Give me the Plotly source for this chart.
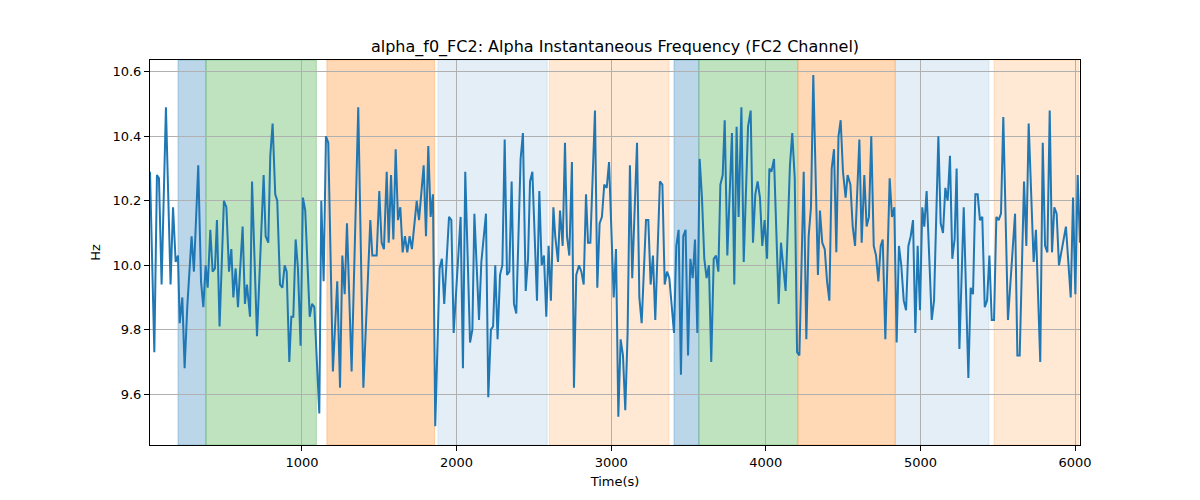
import plotly.graph_objects as go

time_s = [17, 45, 62, 75, 92, 120, 150, 166, 183, 198, 209, 226, 241, 258, 286, 301, 329, 347, 362, 377,
          390, 407, 422, 437, 450, 467, 495, 511, 528, 543, 556, 571, 586, 616, 631, 644, 664, 677, 709, 752,
          765, 782, 795, 810, 827, 840, 858, 873, 888, 901, 918, 931, 944, 959, 974, 991, 1006, 1021, 1050, 1065,
          1080, 1112, 1125, 1140, 1155, 1170, 1200, 1228, 1246, 1261, 1276, 1291, 1321, 1364, 1397, 1442, 1455, 1483, 1500,
          1515, 1530, 1548, 1561, 1576, 1591, 1606, 1621, 1636, 1651, 1666, 1681, 1696, 1711, 1742, 1757, 1787, 1802, 1817,
          1832, 1847, 1862, 1890, 1905, 1920, 1951, 1966, 1981, 2026, 2041, 2056, 2087, 2102, 2115, 2145, 2160, 2175, 2190,
          2205, 2222, 2236, 2250, 2265, 2281, 2296, 2311, 2326, 2341, 2356, 2371, 2386, 2414, 2429, 2447, 2462, 2475, 2490,
          2520, 2535, 2550, 2565, 2580, 2595, 2610, 2626, 2638, 2656, 2669, 2686, 2701, 2714, 2729, 2746, 2759, 2774, 2792,
          2807, 2822, 2837, 2850, 2865, 2895, 2910, 2925, 2940, 2955, 2971, 2986,
          3016, 3031, 3046, 3061, 3076, 3091, 3106, 3121, 3136, 3167, 3182, 3197, 3225, 3240, 3255, 3270, 3285, 3315, 3331,
          3346, 3361, 3376, 3406, 3421, 3436, 3451, 3466, 3481, 3497, 3512, 3527, 3542, 3557, 3572, 3587, 3602, 3617, 3632,
          3647, 3663, 3678, 3693, 3706, 3721, 3734,
          3751, 3781, 3796, 3811, 3824, 3842, 3857, 3885, 3902, 3917, 3932, 3947, 3962, 3977, 3992, 4008, 4023, 4036, 4053,
          4083, 4098, 4128, 4156, 4171, 4187, 4202, 4217, 4245, 4262, 4277, 4292, 4307, 4322, 4337, 4350, 4365, 4381, 4396,
          4411, 4426, 4441, 4456, 4470,
          4484, 4499, 4516, 4529, 4547, 4562, 4577, 4605, 4620, 4637, 4652, 4667, 4682, 4698, 4713, 4728, 4743, 4756, 4773,
          4801, 4816, 4831, 4846, 4861, 4876, 4892, 4907, 4922, 4937, 4952, 4967, 4982, 4997, 5012, 5025, 5040, 5073, 5088,
          5116, 5131, 5146, 5161, 5176, 5191, 5206, 5221,
          5234, 5252, 5280, 5310, 5325, 5340, 5355, 5370, 5385, 5400, 5416, 5431, 5446, 5461, 5476, 5491, 5506, 5521, 5536,
          5566, 5612, 5627, 5642, 5670, 5685, 5700, 5732, 5747, 5775, 5791, 5806, 5821, 5836, 5851, 5866, 5881, 5896, 5911,
          5941, 5972, 5987, 6002, 6017, 6032]

hz = [10.29, 9.73, 10.28, 10.27, 9.94, 10.49, 9.94, 10.18, 10.01, 10.03, 9.82, 9.90, 9.68, 9.87, 10.09, 9.98, 10.31, 9.95, 9.87, 10.00,
      9.93, 10.11, 9.98, 9.99, 10.14, 9.81, 10.20, 10.18, 9.98, 10.05, 9.90, 9.99, 9.87, 10.12, 9.88, 9.94, 9.84, 10.26, 9.78, 10.28,
      10.09, 10.07, 10.34, 10.44, 10.22, 10.20, 9.94, 9.93, 10.00, 9.98, 9.70, 9.84, 9.84, 10.08, 9.99, 9.75, 10.21, 10.17, 9.84, 9.88,
      9.87, 9.54, 10.20, 9.95, 10.40, 10.38, 9.67, 9.95, 9.62, 10.03, 9.91, 10.13, 9.67, 10.49, 9.62, 10.14, 10.03, 10.03, 10.23,
      10.07, 10.05, 10.29, 10.07, 10.28, 10.08, 10.36, 10.14, 10.18, 10.04, 10.09, 10.04, 10.09, 10.05, 10.20, 10.14, 10.31, 10.09, 10.37,
      10.15, 10.22, 9.50, 9.99, 10.02, 9.88, 10.15, 10.14, 9.79, 10.15, 9.68, 10.29, 9.76, 9.80, 10.16, 9.83, 10.01, 10.09, 10.16,
      9.59, 9.80, 9.81, 10.00, 9.77, 9.97, 10.00, 10.39, 9.97, 9.98, 10.26, 9.88, 9.85, 10.33, 10.41, 9.92, 10.02, 10.26, 10.29,
      9.89, 10.23, 10.00, 10.03, 9.84, 10.06, 9.89, 10.18, 10.09, 10.01, 10.17, 10.06, 10.38, 10.09, 10.03, 10.32, 9.62, 9.97, 10.00,
      9.98, 9.94, 10.22, 10.07, 10.07, 10.48, 9.93, 10.13, 10.15, 10.25, 10.24, 10.32,
      9.90, 10.05, 9.53, 9.77, 9.72, 9.55, 9.79, 10.31, 9.96, 10.38, 9.90, 9.82, 10.14, 10.14, 9.94, 10.03, 9.83, 10.26, 10.25,
      9.94, 9.98, 9.96, 9.79, 10.06, 10.11, 9.66, 10.09, 10.11, 9.72, 10.02, 9.96, 10.08, 9.79, 10.33, 10.21, 10.02, 9.96, 10.00,
      9.70, 10.02, 10.03, 9.98, 10.25, 10.28, 10.45,
      10.03, 10.41, 9.94, 10.43, 10.15, 10.49, 10.01, 10.43, 10.48, 10.07, 10.22, 10.26, 10.21, 10.06, 10.14, 10.02, 10.30, 10.29, 10.33,
      9.88, 10.07, 9.92, 10.31, 10.41, 10.27, 9.73, 9.72, 10.29, 9.77, 10.09, 10.18, 10.59, 10.32, 9.97, 10.17, 10.07, 10.05, 9.95,
      9.89, 10.30, 10.36, 10.04, 10.40,
      10.45, 10.29, 10.21, 10.28, 10.25, 10.12, 10.06, 10.39, 10.07, 10.28, 10.12, 10.15, 10.40, 10.06, 10.03, 9.95, 10.06, 10.08, 9.77,
      10.27, 10.15, 10.18, 9.76, 10.06, 10.00, 9.89, 9.86, 10.06, 10.09, 10.14, 9.79, 10.06, 9.86, 10.18, 10.12, 10.23, 9.83, 9.89,
      10.40, 10.13, 10.10, 10.24, 10.20, 10.34, 10.02, 10.08,
      10.30, 9.74, 10.18, 9.65, 9.93, 9.91, 10.22, 10.22, 10.14, 10.15, 9.87, 9.89, 10.03, 9.83, 9.83, 10.15, 10.14, 10.16, 10.46,
      9.83, 10.16, 9.72, 9.72, 10.26, 10.06, 10.44, 10.01, 10.11, 9.70, 10.38, 10.06, 10.04, 10.48, 10.04, 10.18, 10.16, 10.00, 10.04,
      10.12, 9.90, 10.21, 9.91, 10.28, 10.07]

span_start = [198, 379, 1161, 1879, 2600, 3406, 3567, 4211, 4838, 5476]
span_end = [379, 1093, 1858, 2586, 3374, 3567, 4206, 4836, 5443, 6022]
span_color = ["rgba(31,119,180,0.3)", "rgba(44,160,44,0.3)", "rgba(255,127,14,0.3)",
              "rgba(31,119,180,0.12)", "rgba(255,127,14,0.18)",
              "rgba(31,119,180,0.3)", "rgba(44,160,44,0.3)", "rgba(255,127,14,0.3)",
              "rgba(31,119,180,0.12)", "rgba(255,127,14,0.18)"]

x_ticks = [1000, 2000, 3000, 4000, 5000, 6000]
y_ticks = [9.6, 9.8, 10.0, 10.2, 10.4, 10.6]

fig = go.Figure()
fig.add_trace(go.Scatter(x=time_s, y=hz, mode="lines",
                         line=dict(color="#1f77b4", width=2), showlegend=False))

for s, e, c in zip(span_start, span_end, span_color):
    fig.add_shape(type="rect", xref="x", yref="paper", x0=s, x1=e, y0=0, y1=1,
                  fillcolor=c, line=dict(width=1, color=c), layer="below")

font = "DejaVu Sans, sans-serif"
axis_common = dict(showline=True, linecolor="black", linewidth=1, mirror=True,
                   ticks="outside", ticklen=5, tickwidth=1, tickcolor="black",
                   showgrid=True, gridcolor="#b0b0b0", gridwidth=1, zeroline=False,
                   tickfont=dict(family=font, size=13, color="black"))

# page body has an 8px offset; margins compensate so the plot area lands at 150..1080 x 60..445
fig.update_layout(
    width=1200, height=500,
    margin=dict(l=142, r=128, t=52, b=63),
    paper_bgcolor="white", plot_bgcolor="white",
    title=dict(text="alpha_f0_FC2: Alpha Instantaneous Frequency (FC2 Channel)",
               x=(142 + 1072) / 2 / 1200, xanchor="center", y=1 - 38 / 500, yanchor="middle",
               font=dict(family=font, size=16, color="black")),
    xaxis=dict(range=[17, 6032], tickvals=x_ticks, tickformat="d",
               title=dict(text="Time(s)", font=dict(family=font, size=13, color="black"), standoff=8),
               **axis_common),
    yaxis=dict(range=[9.442, 10.637], tickvals=y_ticks, tickformat=".1f",
               title=dict(text="Hz", font=dict(family=font, size=13, color="black"), standoff=8),
               **axis_common),
)

fig.write_html("out.html")
